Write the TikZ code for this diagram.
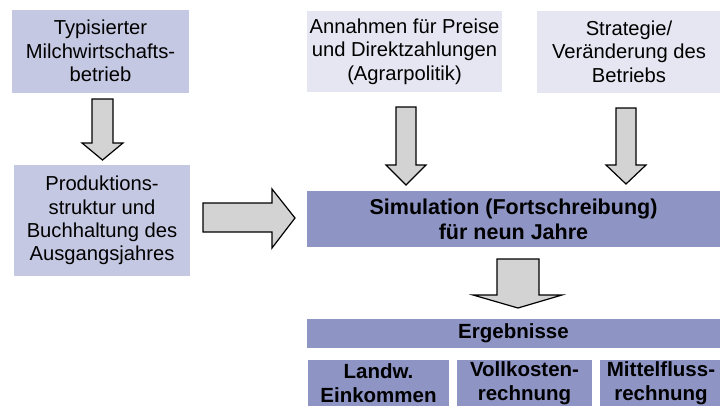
\documentclass[tikz,border=0pt]{standalone}
\usepackage{fontspec}
\setmainfont{Liberation Sans}
\definecolor{boxmid}{HTML}{C5C8E2}
\definecolor{boxlight}{HTML}{E6E6F2}
\definecolor{boxdark}{HTML}{8E95C5}
\definecolor{arrowfill}{HTML}{D3D3D3}
\tikzset{
  inbox/.style={fill=boxmid, draw=none, align=center, inner sep=0pt,
    font=\fontsize{20.2}{23.3}\selectfont},
  litebox/.style={fill=boxlight, draw=none, align=center, inner sep=0pt,
    font=\fontsize{20.2}{23.3}\selectfont},
  darkbox/.style={fill=boxdark, draw=none, align=center, inner sep=0pt,
    font=\bfseries\fontsize{20.5}{24.5}\selectfont},
  blockarrow/.style={fill=arrowfill, draw=black, line width=1.2pt, line join=miter}
}
\begin{document}
\begin{tikzpicture}[x=1pt,y=-1pt]
\useasboundingbox (0,0) rectangle (720,407);
\clip (0,0) rectangle (720,407);
% boxes
\node[inbox, minimum width=177, minimum height=83] (typ) at (100.5,51)
  {Typisierter\\Milchwirtschafts-\\betrieb};
\node[litebox, minimum width=195, minimum height=81] (ann) at (404.5,51.5)
  {Annahmen für Preise\\und Direktzahlungen\\(Agrarpolitik)};
\node[litebox, minimum width=184, minimum height=82] (str) at (629,51.5)
  {Strategie/\\Veränderung des\\Betriebs};
\node[inbox, minimum width=176, minimum height=111] (prod) at (102,220.5)
  {Produktions-\\struktur und\\Buchhaltung des\\Ausgangsjahres};
\node[darkbox, minimum width=413, minimum height=56, font=\bfseries\fontsize{21.5}{25}\selectfont] (sim) at (513.5,219)
  {Simulation (Fortschreibung)\\für neun Jahre};
\node[darkbox, minimum width=413, minimum height=29] (erg) at (513.5,333.5)
  {Ergebnisse};
\node[darkbox, minimum width=141, minimum height=46] (land) at (378.5,383)
  {Landw.\\Einkommen};
\node[darkbox, minimum width=135, minimum height=46] (voll) at (524.5,383)
  {Vollkosten-\\rechnung};
\node[darkbox, minimum width=122, minimum height=46] (mit) at (661,383)
  {Mittelfluss-\\rechnung};
% block arrows
\draw[blockarrow] (92,99) -- (113,99) -- (113,143) -- (123,143) -- (102.5,160)
  -- (82,143) -- (92,143) -- cycle;
\draw[blockarrow] (396,107) -- (416,107) -- (416,165) -- (426,165) -- (406,185)
  -- (386,165) -- (396,165) -- cycle;
\draw[blockarrow] (616,108) -- (636,108) -- (636,165) -- (646,165) -- (626,184)
  -- (606,165) -- (616,165) -- cycle;
\draw[blockarrow] (203,203) -- (272,203) -- (272,189) -- (295,218) -- (272,248)
  -- (272,232) -- (203,232) -- cycle;
\draw[blockarrow] (497,259) -- (539,259) -- (539,295) -- (562,295) -- (518,308)
  -- (473,295) -- (497,295) -- cycle;
\end{tikzpicture}
\end{document}
